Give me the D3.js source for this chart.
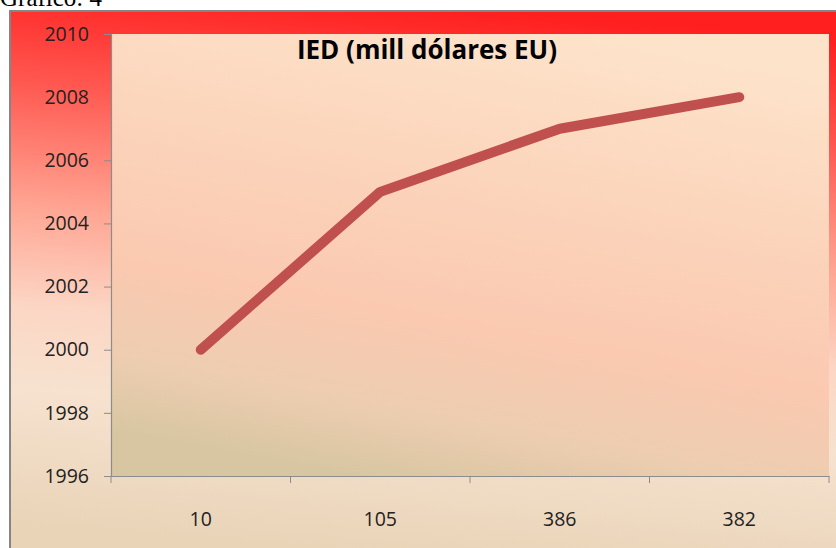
<!DOCTYPE html>
<html>
<head>
<meta charset="utf-8">
<script src="https://cdn.jsdelivr.net/npm/d3@7"></script>
<style>
  html, body { margin: 0; padding: 0; background: #fff; overflow: hidden; }
  svg { display: block; }
</style>
</head>
<body>
<div id="chart"></div>
<script>
// chart values
var categories = ["10", "105", "386", "382"];
var years = [2000, 2005, 2007, 2008];
var yTicks = [1996, 1998, 2000, 2002, 2004, 2006, 2008, 2010];
var chartTitle = "IED (mill dólares EU)";
var caption = "Gráfico: 4";

var W = 836, H = 548;
var margin = {top: 34, right: 7, bottom: 72, left: 111};

var svg = d3.select("#chart").append("svg")
  .attr("width", W)
  .attr("height", H);

var defs = svg.append("defs");

// outer frame fill, red on top fading to beige
var outer = defs.append("linearGradient")
  .attr("id", "outerFill")
  .attr("x1", 0.56).attr("y1", 0).attr("x2", 0.44).attr("y2", 1);
[[0, "#ff1f1f"], [0.2, "#ff5a52"], [0.42, "#ffa593"], [0.6, "#fcd6c4"], [0.75, "#f6e2cf"], [1, "#e9d4b8"]]
  .forEach(function (s) { outer.append("stop").attr("offset", s[0]).attr("stop-color", s[1]); });

// plot area fill
var inner = defs.append("linearGradient")
  .attr("id", "innerFill")
  .attr("x1", 0.65).attr("y1", 0).attr("x2", 0.35).attr("y2", 1);
[[0, "#fde3ca"], [0.35, "#fbd4bb"], [0.65, "#fac9b0"], [0.85, "#edcdb0"], [1, "#d8c6a2"]]
  .forEach(function (s) { inner.append("stop").attr("offset", s[0]).attr("stop-color", s[1]); });

// caption above chart (cut by the top edge, as in the source)
svg.append("text")
  .attr("x", 0)
  .attr("y", 6)
  .style("font-family", "'Liberation Serif', 'Times New Roman', serif")
  .style("font-size", "25px")
  .attr("fill", "#000")
  .text(caption);

// outer chart box
svg.append("rect")
  .attr("x", 10).attr("y", 11)
  .attr("width", W - 10 + 5).attr("height", H - 11 + 5)
  .attr("fill", "url(#outerFill)")
  .attr("stroke", "#858585")
  .attr("stroke-width", 2);

var x0 = margin.left, x1 = W - margin.right;
var y0 = H - margin.bottom, y1 = margin.top;

var x = d3.scaleBand().domain(categories).range([x0, x1]);
var y = d3.scaleLinear().domain([1996, 2010]).range([y0, y1]);

// plot area
svg.append("rect")
  .attr("x", x0).attr("y", y1)
  .attr("width", x1 - x0).attr("height", y0 - y1)
  .attr("fill", "url(#innerFill)");

// y axis
var yAxis = svg.append("g")
  .attr("transform", "translate(" + x0 + ",0)")
  .call(d3.axisLeft(y).tickValues(yTicks).tickFormat(d3.format("d")).tickSize(7).tickPadding(15));

// x axis, ticks on the band edges
var xAxis = svg.append("g")
  .attr("transform", "translate(0," + y0 + ")")
  .call(d3.axisBottom(x).tickSize(0).tickPadding(36));

var edges = categories.map(function (c) { return x(c); }).concat([x1]);
xAxis.selectAll(".edge").data(edges).enter().append("line")
  .attr("class", "edge")
  .attr("x1", function (d) { return d; })
  .attr("x2", function (d) { return d; })
  .attr("y1", 0).attr("y2", 7)
  .attr("stroke", "#8c8c8c");

[yAxis, xAxis].forEach(function (g) {
  g.select(".domain").attr("stroke", "#8c8c8c").attr("stroke-width", 1.2);
  g.selectAll(".tick line").attr("stroke", "#8c8c8c");
  g.selectAll("text")
    .style("font-family", "'Open Sans', sans-serif")
    .style("font-size", "19.5px")
    .attr("fill", "#222");
});

// the line
var line = d3.line()
  .x(function (d, i) { return x(categories[i]) + x.bandwidth() / 2; })
  .y(function (d) { return y(d); });

svg.append("path")
  .datum(years)
  .attr("d", line)
  .attr("fill", "none")
  .attr("stroke", "#c0504d")
  .attr("stroke-width", 10)
  .attr("stroke-linecap", "round")
  .attr("stroke-linejoin", "round");

// title
svg.append("text")
  .attr("x", 427)
  .attr("y", 59)
  .attr("text-anchor", "middle")
  .style("font-family", "'Open Sans', sans-serif")
  .style("font-weight", "bold")
  .style("font-size", "26px")
  .attr("fill", "#000")
  .text(chartTitle);
</script>
</body>
</html>
